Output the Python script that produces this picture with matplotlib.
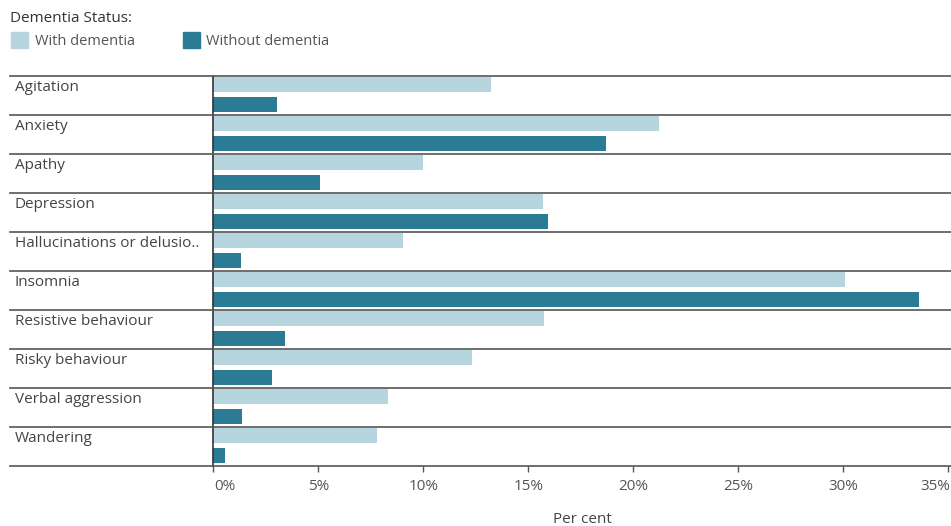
#!/usr/bin/env python3
# -*- coding: utf-8 -*-

import numpy as np
import matplotlib
matplotlib.use("Agg")
import matplotlib.pyplot as plt
from matplotlib.patches import Rectangle
from matplotlib.transforms import blended_transform_factory, ScaledTranslation

# Data (per cent)
behaviours = ["Agitation", "Anxiety", "Apathy", "Depression",
              "Hallucinations or delusio..", "Insomnia", "Resistive behaviour",
              "Risky behaviour", "Verbal aggression", "Wandering"]
with_dementia = [13.2, 21.2, 10.0, 15.7, 9.05, 30.1, 15.75, 12.3, 8.3, 7.8]
without_dementia = [3.05, 18.7, 5.1, 15.95, 1.3, 33.6, 3.4, 2.8, 1.35, 0.55]
ticks = [0, 5, 10, 15, 20, 25, 30, 35]
tick_labels = ["0%", "5%", "10%", "15%", "20%", "25%", "30%", "35%"]

light = "#b6d5de"
dark = "#2a7b93"
line_col = "#555555"
txt_col = "#444444"

plt.rcParams['font.family'] = ['Open Sans', 'DejaVu Sans']

W, H = 951, 526
fig = plt.figure(figsize=(W / 100, H / 100), dpi=100)

# axes placed in pixel terms
x0, x1 = 213.3, 951
y_top, y_bot = 76, 466
ax = fig.add_axes([x0 / W, 1 - y_bot / H, (x1 - x0) / W, (y_bot - y_top) / H])

n = len(behaviours)
rows = np.arange(n)
ax.barh(rows + 0.215, with_dementia, height=0.39, color=light, zorder=2)
ax.barh(rows + 0.735, without_dementia, height=0.39, color=dark, zorder=2)

ax.set_xlim(0, (x1 - x0) / 21.0)
ax.set_ylim(n, 0)

# row separators across the whole width
trans = blended_transform_factory(fig.transFigure, ax.transData)
for i in range(n + 1):
    ax.plot([10 / W, 1], [i, i], color=line_col, linewidth=1.2,
            transform=trans, clip_on=False, zorder=3)

# row labels
for i, name in enumerate(behaviours):
    ax.text(15 / W, i + 0.3, name, transform=trans, ha='left', va='center',
            fontsize=11, color=txt_col)

for s in ["top", "right", "bottom"]:
    ax.spines[s].set_visible(False)
ax.spines["left"].set_color("#333333")
ax.spines["left"].set_linewidth(1.2)
ax.set_yticks([])
ax.set_xticks(ticks)
ax.set_xticklabels(tick_labels)
ax.tick_params(axis='x', length=4, width=1, color=line_col, labelsize=11,
               labelcolor="#555555", pad=5)
ax.set_xlabel("Per cent", fontsize=11, color=txt_col, labelpad=13)

# first and last tick labels nudged inwards, as in the original
labels = ax.get_xticklabels()
labels[0].set_transform(labels[0].get_transform() +
                        ScaledTranslation(12 / 100, 0, fig.dpi_scale_trans))
labels[-1].set_transform(labels[-1].get_transform() +
                         ScaledTranslation(-13 / 100, 0, fig.dpi_scale_trans))

# legend
fig.text(10 / W, 1 - 18 / H, "Dementia Status:", fontsize=11, color="#333333",
         ha='left', va='center')
fig.patches.append(Rectangle((11 / W, 1 - 48 / H), 17 / W, 16 / H,
                             transform=fig.transFigure, color=light))
fig.text(35 / W, 1 - 41 / H, "With dementia", fontsize=10.5, color="#555555",
         ha='left', va='center')
fig.patches.append(Rectangle((183 / W, 1 - 48 / H), 17 / W, 16 / H,
                             transform=fig.transFigure, color=dark))
fig.text(206 / W, 1 - 41 / H, "Without dementia", fontsize=10.5, color="#555555",
         ha='left', va='center')

fig.savefig("out.png", dpi=100)
plt.close(fig)
